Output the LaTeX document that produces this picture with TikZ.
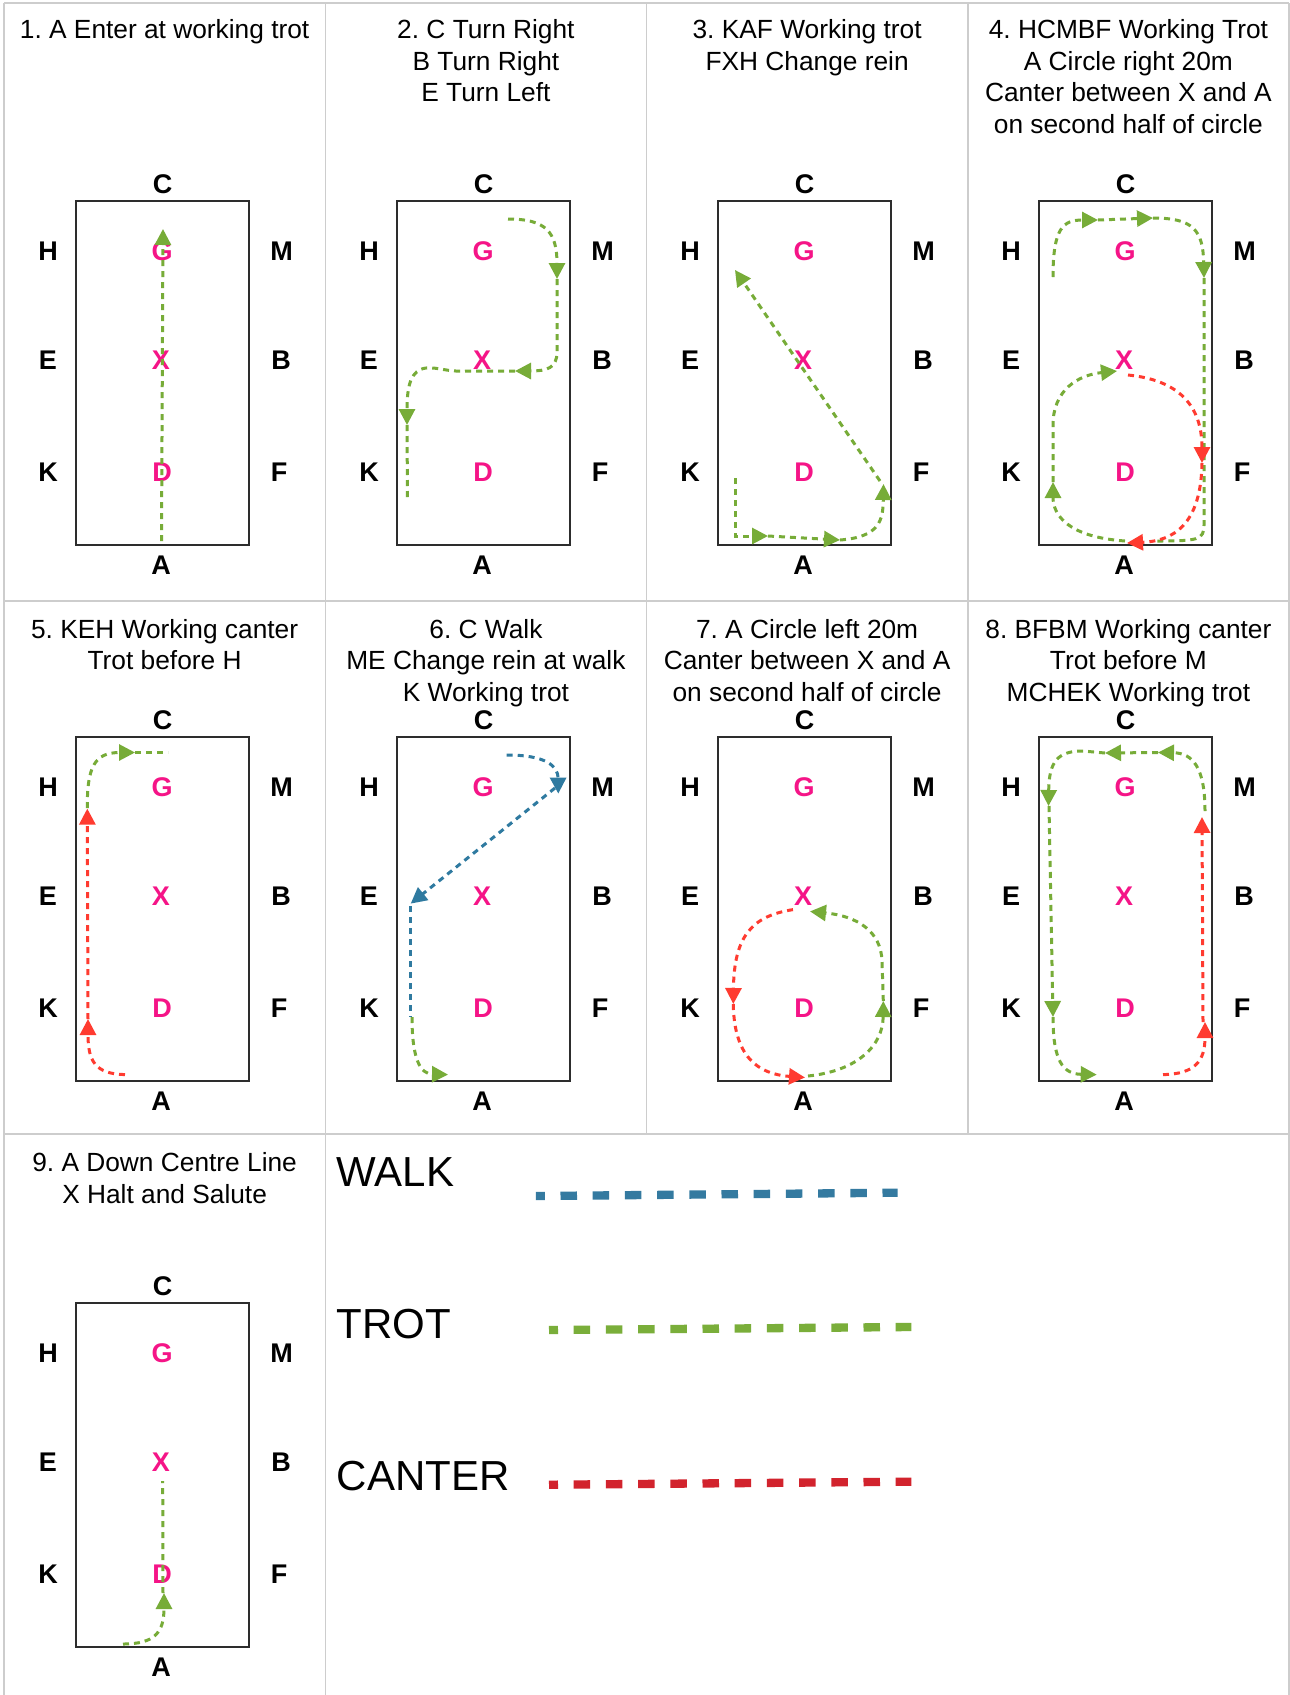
\documentclass[tikz,border=0pt]{standalone}
\usepackage{fontspec}
\setmainfont{Liberation Sans}
\frenchspacing
\usetikzlibrary{arrows.meta}
\definecolor{trotc}{RGB}{119,172,56}
\definecolor{walkc}{RGB}{47,122,160}
\definecolor{canterc}{RGB}{255,59,48}
\definecolor{legtrot}{RGB}{122,174,58}
\definecolor{legwalk}{RGB}{52,122,160}
\definecolor{legcanter}{RGB}{210,35,45}
\definecolor{letterpink}{RGB}{245,20,135}
\definecolor{gridgray}{RGB}{205,205,205}
\definecolor{arenaframe}{RGB}{45,45,45}
\tikzset{
  gait/.style={line width=3pt, dash pattern=on 6pt off 5pt},
  trot/.style={gait, draw=trotc},
  walk/.style={gait, draw=walkc},
  canter/.style={gait, draw=canterc},
  tip/.style={-{Triangle[length=16pt,width=16pt]}},
  arenaline/.style={draw=arenaframe, line width=2pt},
  lbl/.style={inner sep=0pt, font=\bfseries\fontsize{27}{27}\selectfont, text=black},
  mid/.style={lbl, text=letterpink},
  ttl/.style={inner sep=0pt, anchor=base, font=\fontsize{26.3}{32}\selectfont},
  gridline/.style={draw=gridgray, line width=1.6pt},
  legtext/.style={inner sep=0pt, anchor=base west, font=\fontsize{42}{42}\selectfont},
  legline/.style={line width=8.3pt, dash pattern=on 16.5pt off 15.7pt, dash phase=7.5pt}
}
\newcommand\arenabox[1]{%
  \draw[arenaline] (76,201) rectangle (249,545);
  \node[lbl] (#1C) at (162.5,184) {C};
  \node[lbl] (#1H) at (48,251) {H};
  \node[lbl] (#1M) at (281.5,251) {M};
  \node[lbl] (#1E) at (48,360) {E};
  \node[lbl] (#1B) at (281,360) {B};
  \node[lbl] (#1K) at (48,472.5) {K};
  \node[lbl] (#1F) at (279,472.5) {F};
  \node[lbl] (#1A) at (161,565.5) {A};
  \node[mid] (#1G) at (162,251) {G};
  \node[mid] (#1X) at (161,360) {X};
  \node[mid] (#1D) at (162,472.5) {D};
}
\begin{document}
\begin{tikzpicture}[x=1pt,y=-1pt]
\useasboundingbox (0,0) rectangle (1290,1695);
\fill[white] (0,0) rectangle (1290,1695);
% grid
\draw[gridline] (4,3) -- (1289,3);
\draw[gridline] (4,3) -- (4,1695);
\draw[gridline] (1289,3) -- (1289,1695);
\draw[gridline] (325.5,3) -- (325.5,1695);
\draw[gridline] (646.6,3) -- (646.6,1134);
\draw[gridline] (967.8,3) -- (967.8,1134);
\draw[gridline] (4,601) -- (1289,601);
\draw[gridline] (4,1134) -- (1289,1134);

% titles
\node[ttl] (t1a) at (164.6,38.3) {1. A Enter at working trot};
\node[ttl] (t2a) at (485.9,38.3) {2. C Turn Right};
\node[ttl] (t2b) at (485.9,70) {B Turn Right};
\node[ttl] (t2c) at (485.9,101.5) {E Turn Left};
\node[ttl] (t3a) at (807.1,38.3) {3. KAF Working trot};
\node[ttl] (t3b) at (807.1,70) {FXH Change rein};
\node[ttl] (t4a) at (1128.4,38.3) {4. HCMBF Working Trot};
\node[ttl] (t4b) at (1128.4,70) {A Circle right 20m};
\node[ttl] (t4c) at (1128.4,101.5) {Canter between X and A};
\node[ttl] (t4d) at (1128.4,133) {on second half of circle};
\node[ttl] (t5a) at (164.6,638.2) {5. KEH Working canter};
\node[ttl] (t5b) at (164.6,669.8) {Trot before H};
\node[ttl] (t6a) at (485.9,638.2) {6. C Walk};
\node[ttl] (t6b) at (485.9,669.8) {ME Change rein at walk};
\node[ttl] (t6c) at (485.9,701.4) {K Working trot};
\node[ttl] (t7a) at (807.1,638.2) {7. A Circle left 20m};
\node[ttl] (t7b) at (807.1,669.8) {Canter between X and A};
\node[ttl] (t7c) at (807.1,701.4) {on second half of circle};
\node[ttl] (t8a) at (1128.4,638.2) {8. BFBM Working canter};
\node[ttl] (t8b) at (1128.4,669.8) {Trot before M};
\node[ttl] (t8c) at (1128.4,701.4) {MCHEK Working trot};
\node[ttl] (t9a) at (164.6,1171.5) {9. A Down Centre Line};
\node[ttl] (t9b) at (164.6,1203) {X Halt and Salute};

% panel 1
\begin{scope}
  \arenabox{pa}
  \draw[trot,tip] (161.5,541) -- (163,229);
\end{scope}
% panel 2
\begin{scope}[shift={(321,0)}]
  \arenabox{pb}
  \draw[trot,tip] (187,219) .. controls (225,219) and (236,232) .. (236,279);
  \draw[trot,tip] (236,279) -- (236,352) .. controls (236,368) and (226,371) .. (194,371);
  \draw[trot,tip] (194,371) -- (145,371) .. controls (125,372) and (118,367) .. (105,368) .. controls (90,370) and (86,385) .. (86,425);
  \draw[trot] (86,425) -- (86.5,499);
\end{scope}
% panel 3
\begin{scope}[shift={(642,0)}]
  \arenabox{pc}
  \draw[trot,tip] (93,478) -- (93,536) -- (126,536);
  \draw[trot,tip] (126,536) -- (198,540);
  \draw[trot,tip] (198,540) .. controls (238,537) and (241,520) .. (241.5,484);
  \draw[trot,tip] (238,481) -- (93,270);
\end{scope}
% panel 4
\begin{scope}[shift={(963,0)}]
  \arenabox{pd}
  \draw[trot,tip] (90,277) .. controls (90,228) and (100,220) .. (135,220);
  \draw[trot,tip] (135,220) -- (190,218);
  \draw[trot,tip] (190,218) .. controls (230,218) and (240,230) .. (241,278);
  \draw[trot] (241,278) -- (241,525) .. controls (241,540) and (235,541) .. (194,541);
  \draw[trot,tip] (162,541) .. controls (105,537) and (90,515) .. (90,482);
  \draw[trot,tip] (90,482) -- (90,425) .. controls (90,390) and (115,375) .. (154,371);
  \draw[canter,tip] (165,375) .. controls (215,380) and (239,405) .. (239,463);
  \draw[canter,tip] (239,463) .. controls (238,525) and (210,541) .. (164,543);
\end{scope}
% panel 5
\begin{scope}[shift={(0,536)}]
  \arenabox{pe}
  \draw[canter,tip] (125,538.6) .. controls (95,538) and (88,525) .. (88,483);
  \draw[canter,tip] (88,483) -- (87.3,272.6);
  \draw[trot,tip] (87.3,272) .. controls (87,230) and (95,216.5) .. (135,216.5);
  \draw[trot] (135,216.5) -- (168,216.5);
\end{scope}
% panel 6
\begin{scope}[shift={(321,536)}]
  \arenabox{pf}
  \draw[walk,tip] (185.7,219) .. controls (225,219) and (237,230) .. (237.3,257.6);
  \draw[walk,tip] (234,252) -- (89.7,367.6);
  \draw[walk] (89,370) -- (89,481);
  \draw[trot,tip] (91,481) .. controls (91,525) and (100,538) .. (127,538.6);
\end{scope}
% panel 7
\begin{scope}[shift={(642,536)}]
  \arenabox{pg}
  \draw[canter,tip] (151,373.6) .. controls (110,380) and (92,400) .. (91.3,468);
  \draw[canter,tip] (91.3,468) .. controls (92,520) and (115,538) .. (163,541.5);
  \draw[trot,tip] (166,540) .. controls (215,535) and (241,510) .. (241.3,465);
  \draw[trot,tip] (241.3,465) -- (240,425) .. controls (239,395) and (215,380) .. (168,375.4);
\end{scope}
% panel 8
\begin{scope}[shift={(963,536)}]
  \arenabox{ph}
  \draw[canter,tip] (200,538.6) .. controls (232,538) and (242,525) .. (242,486);
  \draw[canter,tip] (240,486) -- (239,281);
  \draw[trot,tip] (242,275) .. controls (242,232) and (230,217) .. (195,216.5);
  \draw[trot,tip] (195,216.5) -- (142,217);
  \draw[trot,tip] (142,217) -- (120,215) .. controls (95,215) and (86,225) .. (85.5,270);
  \draw[trot,tip] (86,270) -- (90,481);
  \draw[trot,tip] (90,481) .. controls (90,525) and (100,538) .. (133.7,538.6);
\end{scope}
% panel 9
\begin{scope}[shift={(0,1102)}]
  \arenabox{pi}
  \draw[trot,tip] (123,542) .. controls (155,542) and (164,530) .. (164,491);
  \draw[trot] (163,491) -- (162.7,379);
\end{scope}

% legend
\node[legtext] (lwalk) at (336.6,1186.7) {WALK};
\node[legtext] (ltrot) at (336.6,1338.3) {TROT};
\node[legtext] (lcanter) at (336.6,1490) {CANTER};
\draw[legline, draw=legwalk] (535.8,1196) -- (897.6,1192.7);
\draw[legline, draw=legtrot] (549,1330) -- (911.3,1327);
\draw[legline, draw=legcanter] (549,1484.7) -- (911.3,1481.7);
\end{tikzpicture}
\end{document}
